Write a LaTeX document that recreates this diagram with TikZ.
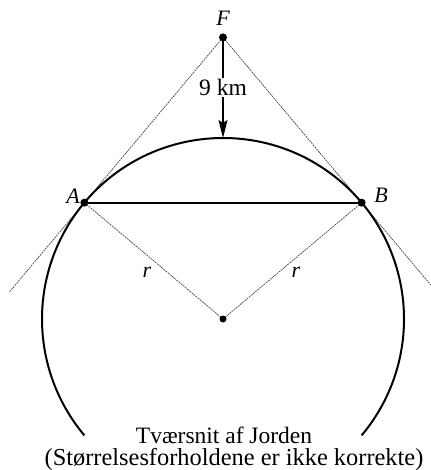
\documentclass[tikz,border=0pt]{standalone}
\usepackage{fontspec}
\setmainfont{Liberation Serif}
\usetikzlibrary{arrows.meta,calc}
\begin{document}
\begin{tikzpicture}[x=1pt,y=1pt,
  thick line/.style={line width=2pt},
  thin dash/.style={line width=0.6pt,dash pattern=on 2pt off 0.8pt,black!80},
  dot/.style={circle,fill=black,inner sep=0pt,minimum size=8pt},
  lbl/.style={font=\fontsize{22}{24}\selectfont\itshape},
  txt/.style={font=\fontsize{24.4}{25}\selectfont}]
\useasboundingbox (0,0) rectangle (430,-470);
\coordinate (O) at (223,-319);
\def\R{181}
\coordinate (A) at ($(O)+(140:\R)$);
\coordinate (B) at ($(O)+(40:\R)$);
\coordinate (F) at (223,-37.4);
\coordinate (T) at ($(O)+(90:\R)$);
% tangents
\coordinate (Aend) at ($(F)!1.54!(A)$);
\coordinate (Bend) at ($(F)!1.50!(B)$);
\draw[thin dash] (F) -- (Aend);
\draw[thin dash] (F) -- (Bend);
% radii
\draw[thin dash] (O) -- (A);
\draw[thin dash] (O) -- (B);
% earth arc
\draw[thick line] ($(O)+(-40:\R)$) arc[start angle=-40,end angle=220,radius=\R];
% chord
\draw[thick line] (A) -- (B);
% arrow
\draw[line width=1.4pt,-{Stealth[length=18pt,width=9pt,inset=3pt]}] (F) -- (T)
  node[pos=0.5,fill=white,inner sep=1pt,font=\fontsize{23.5}{25}\selectfont] (km) {9 km};
% dots
\node[dot] (Fd) at (F) {};
\node[dot] (Ad) at (A) {};
\node[dot] (Bd) at (B) {};
\node[dot,minimum size=7pt] (Od) at (O) {};
% labels
\node[lbl] (Fl) at (223,-18) {F};
\node[lbl] (Al) at (73,-196) {A};
\node[lbl] (Bl) at (381,-195) {B};
\node[lbl] (r1) at (147,-272) {r};
\node[lbl] (r2) at (296,-272) {r};
\node[txt,font=\fontsize{23.5}{25}\selectfont,anchor=base] (t1) at (224,-443) {Tværsnit af Jorden};
\node[txt,anchor=base] (t2) at (234,-465) {(Størrelsesforholdene er ikke korrekte)};
\end{tikzpicture}
\end{document}
